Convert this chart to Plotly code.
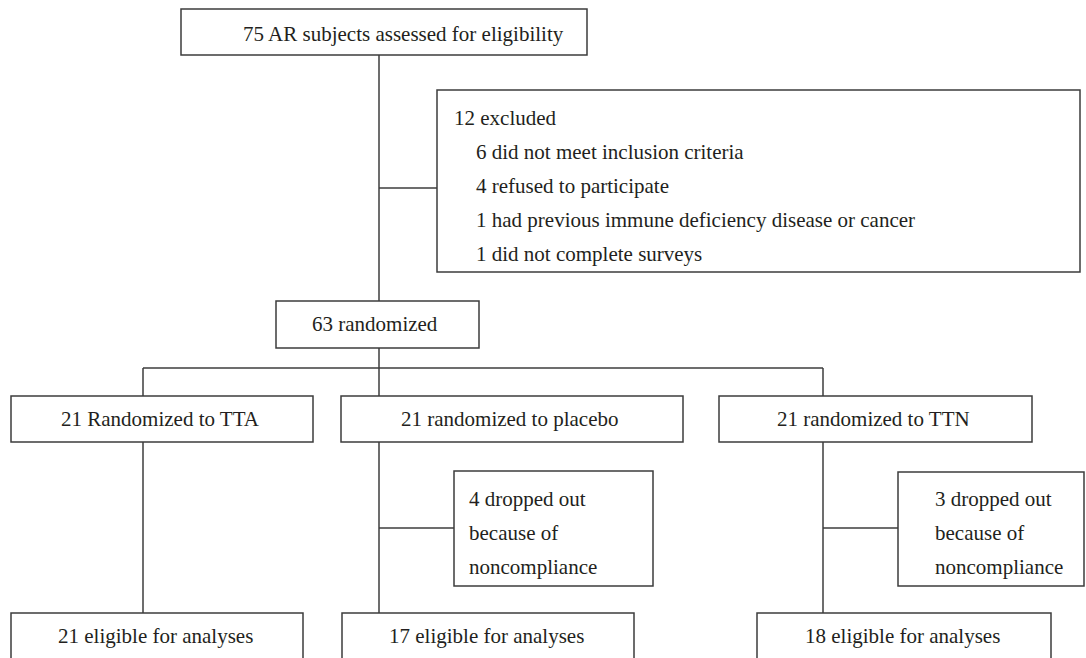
import plotly.graph_objects as go

# ---- content (text of the flow diagram) ----
top_label = "75 AR subjects assessed for eligibility"
excluded_title = "12 excluded"
excluded_reasons = [
    "6 did not meet inclusion criteria",
    "4 refused to participate",
    "1 had previous immune deficiency disease or cancer",
    "1 did not complete surveys",
]
randomized_label = "63 randomized"
arm_labels = ["21 Randomized to TTA", "21 randomized to placebo", "21 randomized to TTN"]
dropout_labels = [None, ["4 dropped out", "because of", "noncompliance"],
                  ["3 dropped out", "because of", "noncompliance"]]
final_labels = ["21 eligible for analyses", "17 eligible for analyses", "18 eligible for analyses"]

# ---- geometry (pixel layout of the diagram) ----
W, H = 1086, 658
top_box = (181, 9, 587, 55)
excl_box = (437, 90, 1080, 272)
rand_box = (276, 301, 479, 348)
arm_boxes = [(11, 396, 313, 442), (341, 396, 683, 442), (719, 396, 1032, 442)]
arm_x = [143, 379, 823]
drop_boxes = [None, (454, 471, 653, 586), (898, 472, 1084, 586)]
final_boxes = [(11, 613, 303, 670), (342, 613, 634, 670), (757, 613, 1051, 670)]
main_x = 379
branch_y = 368
excl_y = 188

LINE = "#3d3d3d"
TXT = "#231f20"
FONT = "Liberation Serif"
FS = 21

fig = go.Figure()
shapes = []

def rect(b):
    shapes.append(dict(type="rect", x0=b[0], y0=b[1], x1=b[2], y1=b[3],
                       xref="x", yref="y", line=dict(color=LINE, width=1.5),
                       fillcolor="white", layer="above"))

def line(x0, y0, x1, y1):
    shapes.append(dict(type="line", x0=x0, y0=y0, x1=x1, y1=y1,
                       xref="x", yref="y", line=dict(color=LINE, width=1.5),
                       layer="below"))

# connectors
line(main_x, top_box[3], main_x, rand_box[1])
line(main_x, excl_y, excl_box[0], excl_y)
line(main_x, rand_box[3], main_x, branch_y)
line(arm_x[0], branch_y, arm_x[2], branch_y)
for i, x in enumerate(arm_x):
    line(x, branch_y, x, arm_boxes[i][1])
    line(x, arm_boxes[i][3], x, final_boxes[i][1])
    if drop_boxes[i]:
        line(x, 528, drop_boxes[i][0], 528)

# boxes
for b in [top_box, excl_box, rand_box] + arm_boxes + [d for d in drop_boxes if d] + final_boxes:
    rect(b)

ann = []
def text(x, y, s, anchor="center"):
    ann.append(dict(x=x, y=y, xref="x", yref="y", text=s, showarrow=False,
                    xanchor=anchor, yanchor="middle",
                    font=dict(family=FONT, size=FS, color=TXT)))

text(403, 34, top_label)
text(452, 118, excluded_title, "left")
for k, s in enumerate(excluded_reasons):
    text(474, 152 + 34 * k, s, "left")
text(375, 324, randomized_label)
for i in range(3):
    b = arm_boxes[i]
    text((b[0] + b[2]) / 2 - 2, 419, arm_labels[i])
    f = final_boxes[i]
    text((f[0] + f[2]) / 2 - 2, 636, final_labels[i])
    if dropout_labels[i]:
        x0 = drop_boxes[i][0] + 13 if i == 1 else drop_boxes[i][0] + 35
        for k, s in enumerate(dropout_labels[i]):
            text(x0, 499 + 34 * k, s, "left")

fig.update_layout(
    width=W, height=H, margin=dict(l=0, r=0, t=0, b=0),
    paper_bgcolor="white", plot_bgcolor="white",
    xaxis=dict(range=[0, W], visible=False, fixedrange=True),
    yaxis=dict(range=[H, 0], visible=False, fixedrange=True),
    shapes=shapes, annotations=ann, showlegend=False,
)

fig.write_html("out.html", config={"displayModeBar": False, "staticPlot": True},
               post_script="document.body.style.margin='0';")
